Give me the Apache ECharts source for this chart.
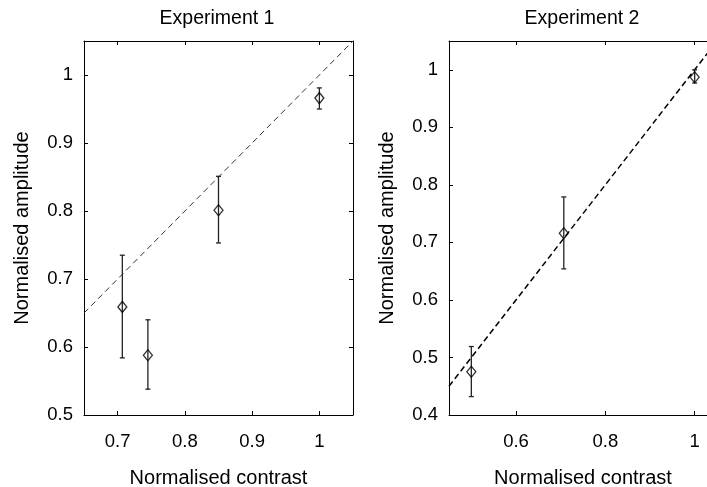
<!DOCTYPE html>
<html><head><meta charset="utf-8">
<script src="https://cdn.jsdelivr.net/npm/echarts@6/dist/echarts.min.js"></script>
<style>html,body{margin:0;padding:0;background:#fff}#c{width:707px;height:487px}</style>
</head><body><div id="c"></div>
<script>
const titles = ['Experiment 1', 'Experiment 2'];
const xName = 'Normalised contrast';
const yName = 'Normalised amplitude';

const exp1X = [0.707, 0.745, 0.85, 1.0];
const exp1Y = [0.659, 0.588, 0.801, 0.966];
const exp1Low = [0.584, 0.538, 0.753, 0.950];
const exp1High = [0.735, 0.640, 0.851, 0.981];

const exp2X = [0.5, 0.707, 1.0];
const exp2Y = [0.475, 0.716, 0.987];
const exp2Low = [0.432, 0.654, 0.977];
const exp2High = [0.519, 0.779, 1.0];

const exp1XTicks = [0.7, 0.8, 0.9, 1];
const exp1YTicks = [0.5, 0.6, 0.7, 0.8, 0.9, 1];
const exp2XTicks = [0.6, 0.8, 1];
const exp2YTicks = [0.4, 0.5, 0.6, 0.7, 0.8, 0.9, 1];

const exp1XRange = [0.65, 1.05];
const exp1YRange = [0.5, 1.05];
const exp2XRange = [0.45, 1.05];
const exp2YRange = [0.4, 1.05];

const exp1Fit = [[0.65, 0.65], [1.05, 1.05]];
const exp2Fit = [[0.45, 0.45], [1.05, 1.05]];

const FONT = 'Liberation Sans, Arial, Helvetica, sans-serif';
const fmt = v => String(+(+v).toFixed(2));

function xAxes(gi, range, ticks) {
  const base = {
    type: 'value', gridIndex: gi, min: range[0], max: range[1],
    axisLine: {show: true, onZero: false, lineStyle: {color: '#000', width: 1}},
    axisTick: {show: true, inside: true, length: 4, customValues: ticks, lineStyle: {color: '#000'}},
    splitLine: {show: false}
  };
  return [
    Object.assign({}, base, {
      position: 'bottom', name: xName, nameLocation: 'middle', nameGap: 53,
      nameTextStyle: {fontSize: 20, color: '#000', fontFamily: FONT},
      axisLabel: {show: true, customValues: ticks, formatter: fmt, margin: 17, fontSize: 18.5, color: '#000', fontFamily: FONT}
    }),
    Object.assign({}, base, {position: 'top', axisLabel: {show: false}})
  ];
}
function yAxes(gi, range, ticks) {
  const base = {
    type: 'value', gridIndex: gi, min: range[0], max: range[1],
    axisLine: {show: true, onZero: false, lineStyle: {color: '#000', width: 1}},
    axisTick: {show: true, inside: true, length: 4, customValues: ticks, lineStyle: {color: '#000'}},
    splitLine: {show: false}
  };
  return [
    Object.assign({}, base, {
      position: 'left', name: yName, nameLocation: 'middle', nameGap: 52,
      nameTextStyle: {fontSize: 20, color: '#000', fontFamily: FONT},
      axisLabel: {show: true, customValues: ticks, formatter: fmt, margin: 11, fontSize: 18.5, color: '#000', fontFamily: FONT}
    }),
    Object.assign({}, base, {position: 'right', axisLabel: {show: false}})
  ];
}

function errRender(params, api) {
  const x = api.value(0), lo = api.value(1), hi = api.value(2);
  const p1 = api.coord([x, lo]), p2 = api.coord([x, hi]);
  const w = 2.5;
  const style = {stroke: '#222', lineWidth: 1.3, fill: null};
  return {type: 'group', children: [
    {type: 'line', shape: {x1: p1[0], y1: p1[1], x2: p2[0], y2: p2[1]}, style: style},
    {type: 'line', shape: {x1: p1[0] - w, y1: p1[1], x2: p1[0] + w, y2: p1[1]}, style: style},
    {type: 'line', shape: {x1: p2[0] - w, y1: p2[1], x2: p2[0] + w, y2: p2[1]}, style: style}
  ]};
}

function seriesFor(xi, yi, xs, ys, lows, highs, fit, lineW, lineColor, dash) {
  return [
    {type: 'line', xAxisIndex: xi, yAxisIndex: yi, data: fit, showSymbol: false, symbol: 'none',
     lineStyle: {color: lineColor, width: lineW, type: dash}, z: 1, silent: true},
    {type: 'custom', xAxisIndex: xi, yAxisIndex: yi, renderItem: errRender,
     data: xs.map((x, i) => [x, lows[i], highs[i]]), z: 2, silent: true},
    {type: 'scatter', xAxisIndex: xi, yAxisIndex: yi, symbol: 'diamond', symbolSize: [9, 11],
     data: xs.map((x, i) => [x, ys[i]]),
     itemStyle: {color: 'rgba(0,0,0,0)', borderColor: '#000', borderWidth: 1.3}, z: 3, silent: true}
  ];
}

const chart = echarts.init(document.getElementById('c'), null, {renderer: 'canvas'});
chart.setOption({
  animation: false,
  backgroundColor: '#fff',
  title: [
    {text: titles[0], left: 212, top: 4, textAlign: 'center', textStyle: {fontSize: 19.5, fontWeight: 'normal', color: '#000', fontFamily: FONT}},
    {text: titles[1], left: 577, top: 4, textAlign: 'center', textStyle: {fontSize: 19.5, fontWeight: 'normal', color: '#000', fontFamily: FONT}}
  ],
  grid: [
    {left: 84, top: 41, width: 269, height: 374, outerBoundsMode: 'none', containLabel: false},
    {left: 449, top: 41, width: 268, height: 374, outerBoundsMode: 'none', containLabel: false}
  ],
  xAxis: [].concat(xAxes(0, exp1XRange, exp1XTicks), xAxes(1, exp2XRange, exp2XTicks)),
  yAxis: [].concat(yAxes(0, exp1YRange, exp1YTicks), yAxes(1, exp2YRange, exp2YTicks)),
  series: [].concat(
    seriesFor(0, 0, exp1X, exp1Y, exp1Low, exp1High, exp1Fit, 1, '#333', [6, 4]),
    seriesFor(2, 2, exp2X, exp2Y, exp2Low, exp2High, exp2Fit, 1.5, '#000', [6, 3.5])
  )
});
</script></body></html>
